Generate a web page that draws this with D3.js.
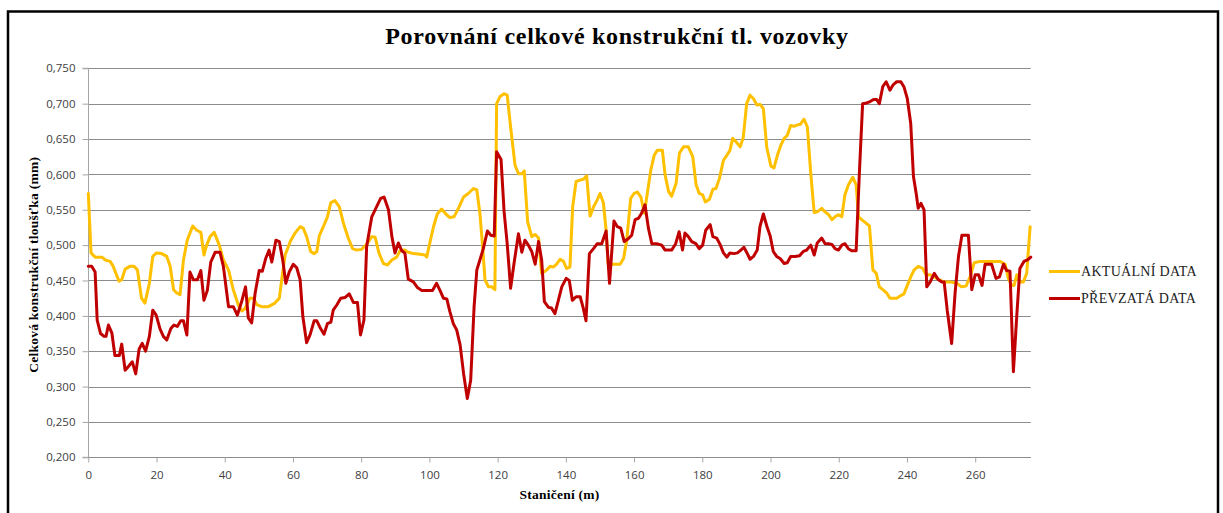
<!DOCTYPE html>
<html>
<head>
<meta charset="utf-8">
<script src="https://cdn.jsdelivr.net/npm/d3@7"></script>
<style>
  html, body { margin: 0; padding: 0; background: #fff; }
  svg { display: block; }
</style>
</head>
<body>
<svg id="chart" width="1223" height="513"></svg>
<script>
// Staničení (m) a celková konstrukční tloušťka – aktuální data
const aktualniStanice = [0,0.8,2,4,5,6.4,7.3,9,9.8,10.8,12.2,13.4,14.4,15.6,16.6,17.9,18.9,20,21.5,23,24,25,26,26.9,27.9,29,30.6,31.8,33,33.9,34.7,35.7,36.9,38.4,39.6,41.1,42.5,44,45,45.9,47.4,48.4,49.4,50.8,52.8,54.7,56,56.7,57.7,59.2,60.6,62.1,63,64,65.2,66.2,67,67.7,68.9,70.1,71.1,72.3,73.6,74.8,76.2,77.5,78.7,80.1,81.6,83.1,84.1,85.2,86.5,87.7,89,90.4,91.4,92.8,93.8,95.3,97.2,98.7,99.2,100.2,101.2,102.3,103.6,104.8,106,107.2,108.5,110,111.4,112.9,113.9,114.8,115.6,116.3,117.3,118.3,119.2,119.7,120.7,121.9,122.8,123.8,125.1,126.1,127.1,127.8,128.8,130,131,132,132.9,134.2,135.4,136.3,137.3,138.3,139.3,140.2,141.2,142,143,144.2,145.1,146.1,147.1,148.1,149.2,150,151,151.8,152.4,154,155.9,156.9,157.8,159,160,161,162,163,164.9,165.9,166.8,168.3,169.1,170.1,171,172.3,173.3,174.5,175.9,177.2,178.2,179.1,180.1,180.9,182.1,183.1,184,185,186.2,187.2,188.1,188.9,189.9,191.1,192,193,194,195,196,196.9,197.9,198.9,200.1,201,202,203,204,204.9,205.9,206.9,207.9,208.8,209.8,210.8,211.8,212.8,213.7,215,216,217,218,218.9,219.9,220.9,221.8,222.8,224.1,225.1,225.8,226.7,228,229,230,231,231.9,232.9,234.1,235,236,237,238,239.1,240.1,241.1,242.1,243.3,244.6,245.6,246.8,248.7,250.7,252.6,254.6,256,257.3,258.5,259.7,261.4,263.4,265.3,267.3,268.8,269.7,270.7,271.4,272.2,273.1,274.1,275.1,276.1];
const aktualniHodnoty = [0.573,0.489,0.483,0.483,0.479,0.477,0.470,0.449,0.451,0.466,0.470,0.470,0.465,0.425,0.418,0.446,0.484,0.489,0.488,0.484,0.470,0.437,0.432,0.430,0.479,0.507,0.527,0.521,0.518,0.486,0.500,0.512,0.518,0.500,0.479,0.465,0.437,0.415,0.407,0.410,0.425,0.425,0.416,0.413,0.413,0.418,0.425,0.451,0.486,0.505,0.517,0.526,0.524,0.512,0.491,0.488,0.491,0.513,0.526,0.540,0.560,0.563,0.554,0.531,0.510,0.495,0.493,0.494,0.501,0.512,0.511,0.489,0.474,0.472,0.479,0.483,0.492,0.493,0.490,0.488,0.487,0.486,0.483,0.505,0.526,0.544,0.551,0.544,0.539,0.540,0.552,0.568,0.573,0.580,0.578,0.545,0.498,0.451,0.441,0.441,0.437,0.700,0.710,0.714,0.712,0.667,0.613,0.601,0.601,0.605,0.533,0.512,0.515,0.510,0.460,0.464,0.470,0.469,0.473,0.480,0.477,0.467,0.469,0.554,0.590,0.592,0.593,0.598,0.541,0.554,0.564,0.573,0.560,0.521,0.473,0.473,0.473,0.481,0.505,0.566,0.573,0.575,0.568,0.545,0.606,0.627,0.634,0.634,0.599,0.576,0.569,0.587,0.630,0.639,0.639,0.625,0.585,0.573,0.571,0.561,0.565,0.579,0.580,0.594,0.620,0.627,0.634,0.651,0.646,0.639,0.652,0.700,0.712,0.707,0.698,0.699,0.693,0.638,0.612,0.609,0.627,0.641,0.651,0.655,0.669,0.668,0.670,0.671,0.678,0.667,0.601,0.546,0.547,0.552,0.547,0.543,0.536,0.540,0.543,0.540,0.571,0.585,0.596,0.585,0.540,0.536,0.531,0.527,0.465,0.460,0.441,0.437,0.432,0.425,0.425,0.425,0.428,0.431,0.443,0.455,0.465,0.470,0.467,0.458,0.458,0.453,0.448,0.448,0.446,0.441,0.442,0.455,0.475,0.477,0.477,0.477,0.477,0.473,0.453,0.443,0.443,0.458,0.448,0.448,0.460,0.526];

// Převzatá data
const prevzataStanice = [0,1,2,2.6,3.6,4.6,5.2,5.9,6.9,7.8,9.1,9.8,10.8,11.7,12.9,13.9,14.9,15.8,16.8,17.9,18.9,19.9,21,22,23,24.2,25.1,26.1,27.1,27.9,28.9,29.8,30.8,32,33,33.9,34.9,35.9,37.2,38.6,39.6,41.1,42.5,43.7,45,46.1,46.9,47.9,48.9,50.1,51,52,53,53.8,55,56,57,57.9,58.9,60.1,61.1,62.1,62.9,64,65,66.2,67,68.1,69.1,70.1,71.1,71.8,72.8,74,75.3,76.5,77.7,78.9,79.8,80.8,81.6,83.1,84.5,85.7,86.7,88,89,89.9,90.9,91.9,92.8,93.8,95.3,96.5,97.7,99.2,100.9,102.1,103.1,104.1,105.1,106,107,108,109,110,111.1,112.1,113.1,113.9,114.8,115.8,117,118,119,119.7,121,121.9,122.8,123.8,124.8,126.1,127.1,128,129,130,131,132,132.9,133.7,134.9,135.8,136.8,137.8,138.8,140.1,141,141.9,143,144.2,145.1,145.9,146.9,148.1,149.2,150.5,151.8,152.8,154.1,155.1,156.1,157.1,158.3,159.3,160.3,161.3,162.2,163.2,164.2,165.2,166.6,168.1,169.1,171,172.2,173.2,174.2,174.9,175.9,176.9,178.1,179.1,180.1,181,182.3,183.1,184.2,185.2,186.2,187.2,188.1,189.3,190.3,191.3,192.2,193.2,194,195,196.1,196.9,197.9,198.9,199.9,200.8,201.8,202.8,204,204.9,205.9,207.2,208.5,209.6,210.6,211.8,212.8,213.7,215,216,217,218,218.9,219.9,220.9,221.8,222.8,223.8,225.1,226,227,228.2,229.2,230.2,231.1,231.9,232.9,233.9,235,236,237,238.2,239.1,240.1,241.1,241.9,242.7,243.3,244.1,245,245.8,246.8,248,249.2,250.2,250.9,251.8,253.1,254.1,255.1,256.1,258,259,260,261,262,262.9,264.8,266.1,267.1,268.3,269.2,270.2,271.2,272.2,273.1,274.3,275.3,276.3];
const prevzataHodnoty = [0.470,0.470,0.462,0.394,0.375,0.371,0.371,0.387,0.376,0.344,0.344,0.360,0.323,0.328,0.335,0.318,0.353,0.361,0.350,0.371,0.408,0.401,0.382,0.371,0.366,0.382,0.387,0.385,0.393,0.393,0.373,0.462,0.451,0.451,0.464,0.422,0.436,0.476,0.490,0.490,0.470,0.413,0.413,0.401,0.421,0.441,0.397,0.390,0.432,0.464,0.463,0.481,0.493,0.476,0.507,0.505,0.479,0.446,0.462,0.473,0.468,0.451,0.399,0.362,0.373,0.393,0.393,0.382,0.374,0.389,0.391,0.408,0.415,0.425,0.426,0.431,0.419,0.419,0.373,0.394,0.498,0.540,0.554,0.566,0.568,0.550,0.512,0.489,0.503,0.492,0.489,0.452,0.448,0.440,0.436,0.436,0.436,0.446,0.436,0.425,0.424,0.406,0.389,0.380,0.359,0.319,0.283,0.309,0.413,0.465,0.479,0.495,0.520,0.514,0.513,0.632,0.621,0.547,0.502,0.439,0.474,0.516,0.490,0.507,0.500,0.491,0.473,0.505,0.479,0.420,0.412,0.411,0.403,0.422,0.441,0.453,0.450,0.422,0.427,0.427,0.411,0.393,0.488,0.495,0.502,0.502,0.520,0.446,0.534,0.526,0.524,0.505,0.509,0.514,0.536,0.538,0.545,0.557,0.524,0.502,0.502,0.500,0.493,0.493,0.502,0.519,0.493,0.517,0.512,0.505,0.502,0.495,0.500,0.521,0.529,0.512,0.510,0.501,0.489,0.483,0.489,0.488,0.489,0.493,0.497,0.488,0.480,0.484,0.493,0.526,0.544,0.527,0.513,0.491,0.484,0.481,0.474,0.475,0.484,0.484,0.485,0.491,0.493,0.500,0.486,0.503,0.510,0.502,0.502,0.501,0.495,0.493,0.500,0.502,0.495,0.492,0.492,0.597,0.700,0.701,0.703,0.706,0.706,0.700,0.724,0.731,0.719,0.727,0.731,0.731,0.724,0.707,0.672,0.597,0.573,0.552,0.559,0.550,0.441,0.448,0.460,0.451,0.448,0.448,0.408,0.361,0.432,0.484,0.514,0.514,0.437,0.458,0.458,0.443,0.473,0.473,0.453,0.455,0.473,0.464,0.463,0.321,0.401,0.467,0.477,0.479,0.483];

// Popisky os a legendy
const xTicks = [0,20,40,60,80,100,120,140,160,180,200,220,240,260];
const yTicks = [0.200,0.250,0.300,0.350,0.400,0.450,0.500,0.550,0.600,0.650,0.700,0.750];
const seriesNames = ["AKTUÁLNÍ DATA", "PŘEVZATÁ DATA"];
const seriesColors = ["#FFC000", "#C00000"];

const svg = d3.select("#chart");
const plot = { left: 88.3, right: 1030.8, top: 68.3, bottom: 457.3 };

const x = d3.scaleLinear().domain([0, 276.3]).range([plot.left, plot.right]);
const y = d3.scaleLinear().domain([0.2, 0.75]).range([plot.bottom, plot.top]);

const fmt = v => d3.format(".3f")(v).replace(".", ",");
const serif = "'Liberation Serif', 'Times New Roman', serif";
const sans = "'Open Sans', 'Liberation Sans', sans-serif";

// Rámeček grafu
svg.append("rect")
  .attr("x", 8).attr("y", 11.5)
  .attr("width", 1210).attr("height", 520)
  .attr("fill", "none").attr("stroke", "#000").attr("stroke-width", 2.5);

// Název
svg.append("text")
  .attr("x", 617).attr("y", 44)
  .attr("text-anchor", "middle")
  .attr("font-family", serif)
  .attr("font-weight", "bold").attr("font-size", 24)
  .attr("letter-spacing", 0.7)
  .text("Porovnání celkové konstrukční tl. vozovky");

// Vodorovné mřížky
svg.append("g")
  .selectAll("line").data(yTicks).join("line")
  .attr("x1", plot.left).attr("x2", plot.right)
  .attr("y1", d => Math.round(y(d)) + 0.5).attr("y2", d => Math.round(y(d)) + 0.5)
  .attr("stroke", "#8c8c8c").attr("stroke-width", 1);

// Osa Y
const yAxis = d3.axisLeft(y).tickValues(yTicks).tickFormat(fmt).tickSize(6).tickPadding(7);
const gy = svg.append("g").attr("transform", `translate(${Math.round(plot.left) + 0.5},0)`).call(yAxis);
gy.select(".domain").attr("stroke", "#a6a6a6").attr("d", `M-6,${plot.top}H0V${plot.bottom}H-6`);
gy.selectAll(".tick line").attr("stroke", "#a6a6a6");
gy.selectAll(".tick text")
  .attr("font-family", sans)
  .attr("font-size", 11.5).attr("fill", "#404040");

// Osa X
const xAxis = d3.axisBottom(x).tickValues(xTicks).tickFormat(d3.format("d")).tickSize(5).tickPadding(8);
const gx = svg.append("g").attr("transform", `translate(0,${Math.round(plot.bottom) + 0.5})`).call(xAxis);
gx.select(".domain").attr("stroke", "#8c8c8c").attr("d", `M${plot.left},0H${plot.right}`);
gx.selectAll(".tick line").attr("stroke", "#a6a6a6");
gx.selectAll(".tick text")
  .attr("font-family", sans)
  .attr("font-size", 11.5).attr("fill", "#404040");

// Názvy os
svg.append("text")
  .attr("x", plot.left + (plot.right - plot.left) / 2).attr("y", 499)
  .attr("text-anchor", "middle")
  .attr("font-family", serif)
  .attr("font-weight", "bold").attr("font-size", 13.5)
  .attr("letter-spacing", 0.25)
  .text("Staničení (m)");

svg.append("text")
  .attr("transform", `translate(38,${(plot.top + plot.bottom) / 2 + 2}) rotate(-90)`)
  .attr("text-anchor", "middle")
  .attr("font-family", serif)
  .attr("font-weight", "bold").attr("font-size", 13.5)
  .attr("letter-spacing", 0.25)
  .text("Celková konstrukční tloušťka (mm)");

// Řady
const line = d3.line().x(d => x(d[0])).y(d => y(d[1]));
const aktualni = aktualniStanice.map((s, i) => [s, aktualniHodnoty[i]]);
const prevzata = prevzataStanice.map((s, i) => [s, prevzataHodnoty[i]]);

[aktualni, prevzata].forEach((data, i) => {
  svg.append("path")
    .datum(data)
    .attr("d", line)
    .attr("fill", "none")
    .attr("stroke", seriesColors[i])
    .attr("stroke-width", 3)
    .attr("stroke-linejoin", "round")
    .attr("stroke-linecap", "round");
});

// Legenda
const legend = svg.append("g").attr("transform", "translate(1049,271.5)");
seriesNames.forEach((name, i) => {
  const g = legend.append("g").attr("transform", `translate(0,${i * 27})`);
  g.append("line").attr("x1", 0).attr("x2", 31).attr("y1", 0).attr("y2", 0)
    .attr("stroke", seriesColors[i]).attr("stroke-width", 3);
  g.append("text").attr("x", 32).attr("y", 4.8)
    .attr("font-family", serif)
    .attr("font-size", 14).attr("fill", "#222")
    .attr("letter-spacing", 0.3)
    .text(name);
});
</script>
</body>
</html>
